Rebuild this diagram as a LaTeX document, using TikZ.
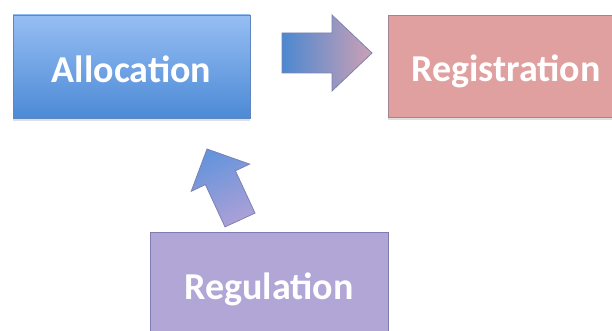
\documentclass[tikz,border=0pt]{standalone}
\usepackage{fontspec}
\setmainfont{Carlito}
\usetikzlibrary{shadows}
\definecolor{allocTop}{RGB}{150,190,243}
\definecolor{allocBot}{RGB}{76,138,214}
\definecolor{allocLine}{RGB}{95,135,190}
\definecolor{regFill}{RGB}{224,160,160}
\definecolor{regLine}{RGB}{165,130,150}
\definecolor{reguFill}{RGB}{178,166,214}
\definecolor{reguLine}{RGB}{125,125,180}
\definecolor{arrBlue}{RGB}{76,136,208}
\definecolor{arrPink}{RGB}{205,160,180}
\definecolor{arrLine}{RGB}{125,130,178}
\definecolor{upTop}{RGB}{100,148,220}
\definecolor{upBot}{RGB}{172,160,215}
\tikzset{
  box/.style={rectangle, inner sep=0pt, line width=0.9pt,
    drop shadow={shadow xshift=0pt, shadow yshift=-3pt, opacity=0.25, fill=gray}},
  lbl/.style={anchor=base, text=white, font=\fontsize{38}{42}\selectfont\bfseries},
  blockarrow/.style={line width=0.8pt, draw=arrLine}
}
\begin{document}
\begin{tikzpicture}[x=1pt,y=1pt]
\useasboundingbox (0,0) rectangle (612,331);
\clip (0,0) rectangle (612,331);
\fill[white] (0,0) rectangle (612,331);
% boxes
\node[box, draw=allocLine, top color=allocTop, bottom color=allocBot,
  minimum width=237pt, minimum height=103pt] (alloc) at (131.5,264.5) {};
\node[box, draw=regLine, fill=regFill,
  minimum width=262pt, minimum height=102pt] (reg) at (519,265) {};
\node[box, draw=reguLine, fill=reguFill,
  minimum width=238pt, minimum height=112pt] (regu) at (269,43) {};
% labels
\node[lbl] (alloctext) at (131.5,248) {Allocation};
\node[lbl] (regtext) at (506,249) {Registration};
\node[lbl] (regutext) at (269,31) {Regulation};
% right block arrow
\shade[blockarrow, left color=arrBlue, right color=arrPink]
  (282,298) -- (332,298) -- (332,316) -- (372,278) -- (332,240) -- (332,258) -- (282,258) -- cycle;
% up block arrow
\shade[blockarrow, top color=upTop, bottom color=upBot, shading angle=25]
  (255.0,117.9) -- (225.0,104.1) -- (205.4,146.4) -- (191.2,139.7) -- (207,182)
  -- (249.6,166.9) -- (235.4,160.2) -- cycle;
\end{tikzpicture}
\end{document}
